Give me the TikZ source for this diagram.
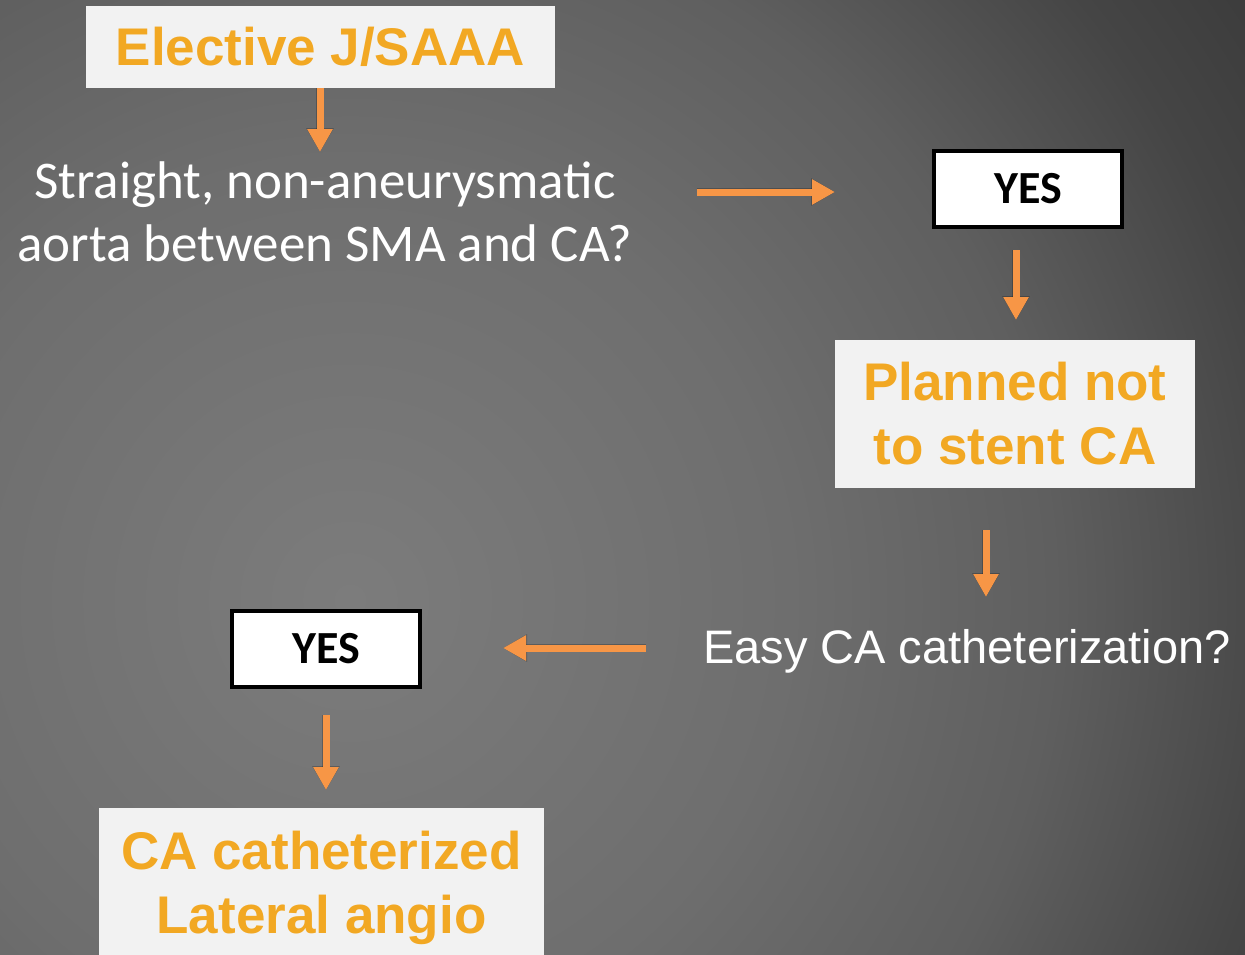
\documentclass[tikz,border=0pt]{standalone}
\usepackage{fontspec}
\setmainfont{Liberation Sans}
\newfontfamily\calibri{Carlito}
\usetikzlibrary{arrows.meta}
\definecolor{arrowc}{HTML}{F79646}
\definecolor{goldc}{HTML}{F2A823}
\definecolor{boxc}{HTML}{F2F2F2}
\definecolor{bgA}{HTML}{7C7C7C}
\definecolor{bgB}{HTML}{6E6E6E}
\definecolor{bgC}{HTML}{5F5F5F}
\definecolor{bgD}{HTML}{454545}
\definecolor{bgE}{HTML}{3B3B3B}
\pgfdeclareradialshading{bgshade}{\pgfpoint{0bp}{0bp}}{color(0bp)=(bgA); color(10bp)=(bgB); color(16bp)=(bgC); color(21.5bp)=(bgD); color(25bp)=(bgE); color(50bp)=(bgE)}
\tikzset{
  goldbox/.style={fill=boxc, draw=none, text=goldc, font=\bfseries\fontsize{53}{64}\selectfont, align=center, inner sep=0pt},
  yesbox/.style={fill=white, draw=black, line width=4pt, font=\calibri\bfseries\fontsize{46}{50}\selectfont, text=black, minimum width=188pt, minimum height=76pt, inner sep=0pt},
  arr/.style={draw=arrowc, line width=7pt, -{Triangle[width=24pt,length=23pt]}},
  arrshadow/.style={draw=black, opacity=0.22, line width=8pt, -{Triangle[width=26pt,length=24pt]}},
}
\begin{document}
\begin{tikzpicture}[x=1pt,y=-1pt]
\useasboundingbox (0,0) rectangle (1245,954);
\begin{scope}
\clip (0,0) rectangle (1245,954);
\shade[shading=bgshade] (350,600) circle (1100);
\end{scope}

% nodes
\node[goldbox, minimum width=469pt, minimum height=82pt] (elective) at (320.5,47) {Elective J/SAAA};
\node[text=white, font=\calibri\fontsize{53}{63}\selectfont, align=center, inner sep=0pt] (question) at (325,212) {Straight, non-aneurysmatic\\aorta between SMA and CA?};
\node[yesbox] (yes1) at (1028,189) {YES};
\node[goldbox, minimum width=360pt, minimum height=148pt] (planned) at (1015,414) {Planned not\\to stent CA};
\node[text=white, font=\fontsize{47}{52}\selectfont, inner sep=0pt] (easy) at (967,651) {Easy CA catheterization?};
\node[yesbox] (yes2) at (326,649) {YES};
\node[goldbox, minimum width=445pt, minimum height=160pt] (cath) at (321.5,888) {CA catheterized\\Lateral angio};

% arrow end coordinates
\coordinate (t1) at (320,152);
\coordinate (s2) at (697,192);
\coordinate (t2) at (835,192);
\coordinate (s3) at (1016,250);
\coordinate (t3) at (1016,320);
\coordinate (s4) at (986,530);
\coordinate (t4) at (986,597);
\coordinate (s5) at (646,648);
\coordinate (t5) at (503,648);
\coordinate (s6) at (326,715);
\coordinate (t6) at (326,790);

% shadows
\begin{scope}[shift={(2,3)}]
\draw[arrshadow] (elective.south -| t1) -- (t1);
\draw[arrshadow] (s2) -- (t2);
\draw[arrshadow] (s3) -- (t3);
\draw[arrshadow] (s4) -- (t4);
\draw[arrshadow] (s5) -- (t5);
\draw[arrshadow] (s6) -- (t6);
\end{scope}

% arrows
\draw[arr] (elective.south -| t1) -- (t1);
\draw[arr] (s2) -- (t2);
\draw[arr] (s3) -- (t3);
\draw[arr] (s4) -- (t4);
\draw[arr] (s5) -- (t5);
\draw[arr] (s6) -- (t6);
\end{tikzpicture}
\end{document}
